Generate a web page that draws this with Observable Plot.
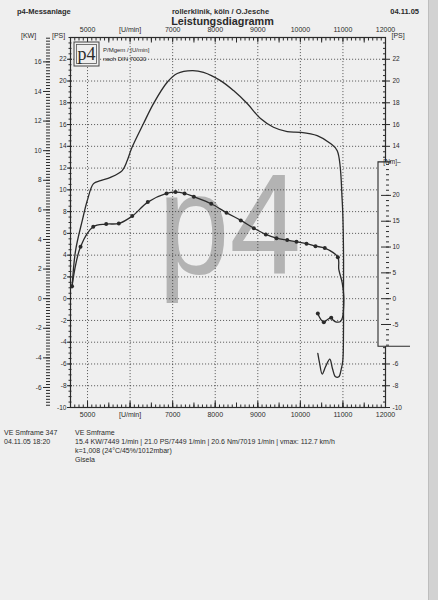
<!DOCTYPE html>
<html><head><meta charset="utf-8">
<script src="https://cdn.jsdelivr.net/npm/d3@7"></script>
<script src="https://cdn.jsdelivr.net/npm/@observablehq/plot@0.6"></script>
<style>
html,body{margin:0;padding:0;background:#efefef;}
#page{position:relative;width:438px;height:600px;overflow:hidden;background:#efefef;font-family:"Liberation Sans",Arial,sans-serif;color:#2b2b2b;}
#page svg{position:absolute;left:0;top:0;}
#strip{position:absolute;left:428px;top:0;width:10px;height:600px;background:#d2d2d2;border-left:1px solid #bdbdbd;}
</style></head>
<body><div id="page"><div id="strip"></div></div>
<script>
const PAPER = "#efefef";
const INK = "#2b2b2b";
const KW2PS = 1.36;     // 1 kW in PS units
const NM2PS = 0.4745;   // 1 Nm drawn on the PS grid

// axes / ticks
const rpmAxisTicks = [5000, 6000, 7000, 8000, 9000, 10000, 11000, 12000];
const gridRpm = [5000, 6000, 7000, 8000, 9000, 10000, 11000];
const psLabelsLeft = [22, 20, 18, 16, 14, 12, 10, 8, 6, 4, 2, 0, -2, -4, -6, -8, -10];
const psLabelsRight = [22, 20, 18, 16, 14, -6, -8, -10];
const psTicksRight = [22, 20, 18, 16, 14, 12, 10, 8, 6, 4, 2, 0, -2, -4, -6, -8, -10];
const gridPs = [22, 20, 18, 16, 14, 12, 10, 8, 6, 4, 2, 0, -2, -4, -6, -8];
const kwLabels = [16, 14, 12, 10, 8, 6, 4, 2, 0, -2, -4, -6];
const nmLabels = [20, 15, 10, 5, 0, -5];
const nmBox = [-9.3, 26.4];

// power curve (PS) – run-up then run-down
const powerRpm = [4636, 4718, 4876, 4993, 5141, 5305, 5540, 5815, 5933, 6034, 6315, 6550, 6872, 7107, 7459, 7725, 8124, 8430, 8751, 9064, 9369, 9691, 10003, 10396, 10708, 10866, 10983, 11013, 11013,
                  11013, 10997, 10960, 10903, 10826, 10755, 10692, 10591, 10513, 10450, 10410];
const powerPs  = [1.0, 4.4, 7.17, 9.0, 10.57, 10.85, 11.15, 11.77, 12.69, 13.79, 16.09, 17.93, 19.89, 20.69, 20.96, 20.80, 20.04, 19.12, 17.93, 16.55, 15.75, 15.35, 15.29, 14.98, 14.25, 13.6, 9.0, 4.4, 0.1,
                  -2.95, -5.7, -6.47, -7.18, -7.18, -6.44, -5.55, -6.26, -6.93, -5.89, -5.03];

// torque (Nm) – measured points (dots) during run-up
const torqueRpm = [4636, 4836, 5134, 5439, 5735, 6050, 6416, 6856, 7067, 7279, 7497, 7906, 8265, 8601, 8906, 9188, 9440, 9691, 9909, 10144, 10356, 10574, 10880];
const torqueNm  = [2.42, 10.06, 13.93, 14.44, 14.57, 15.99, 18.70, 20.39, 20.64, 20.39, 19.75, 18.39, 16.65, 15.16, 13.66, 12.44, 11.72, 11.34, 11.03, 10.64, 10.17, 9.79, 8.04];
// torque run-down trace
const rundownRpm = [10903, 10983, 11020, 11013, 10990, 10943, 10849, 10778, 10725, 10638, 10551, 10473, 10410];
const rundownNm  = [5.66, 3.08, 0.48, -2.09, -3.64, -4.42, -4.52, -4.22, -3.70, -4.03, -4.55, -3.93, -2.87];
const rundownDotRpm = [10725, 10551, 10410];
const rundownDotNm  = [-3.70, -4.55, -2.87];

const power = powerRpm.map((r, i) => ({rpm: r, ps: powerPs[i]}));
const torqueLine = torqueRpm.map((r, i) => ({rpm: r, nm: torqueNm[i]}))
  .concat(rundownRpm.map((r, i) => ({rpm: r, nm: rundownNm[i]})));
const torqueDots = torqueRpm.map((r, i) => ({rpm: r, nm: torqueNm[i]}))
  .concat(rundownDotRpm.map((r, i) => ({rpm: r, nm: rundownDotNm[i]})));

const none = () => "";
const plain = d => String(d);
const rpmFmt = d => d === 6000 ? "[U/min]" : String(d);

function nmBoxMark(index, scales, values, dimensions) {
  const xr = dimensions.width - dimensions.marginRight;
  const y0 = scales.y(nmBox[1] * NM2PS), y1 = scales.y(nmBox[0] * NM2PS);
  const g = d3.create("svg:g");
  g.append("rect").attr("x", xr - 7).attr("y", y0).attr("width", 34).attr("height", y1 - y0).attr("fill", PAPER);
  g.append("path").attr("d", `M${xr + 6},${y0}H${xr - 7}V${y1}H${xr + 25}`)
    .attr("fill", "none").attr("stroke", INK).attr("stroke-width", 1.1);
  g.append("text").attr("x", xr + 7).attr("y", y0 + 2.5).attr("font-size", 6.5).attr("fill", INK).text("[Nm]–");
  return g.node();
}

const fs = 7;
const chart = Plot.plot({
  width: 438, height: 600,
  marginLeft: 70, marginRight: 53, marginTop: 37, marginBottom: 193,
  x: {domain: [4600, 12000], label: null},
  y: {domain: [-10, 24], label: null},
  style: {background: "transparent", fontFamily: "Liberation Sans, Arial, sans-serif", fontSize: "7px", color: INK, overflow: "visible"},
  marks: [
    Plot.gridX(gridRpm, {stroke: "#333", strokeOpacity: 0.85, strokeWidth: 0.9, strokeDasharray: "1.1,1.9"}),
    Plot.gridY(gridPs, {stroke: "#333", strokeOpacity: 0.85, strokeWidth: 0.9, strokeDasharray: "1.1,1.9"}),
    Plot.frame({stroke: INK, strokeWidth: 1.2}),
    // top ruler (inward)
    Plot.axisX(d3.range(4700, 12000, 100), {anchor: "top", tickSize: 2.5, dy: 2.5, tickFormat: none, label: null}),
    Plot.axisX(d3.range(5000, 12000, 500), {anchor: "top", tickSize: 4.5, dy: 4.5, tickFormat: none, label: null}),
    Plot.axisX(rpmAxisTicks, {anchor: "top", tickSize: 0, tickPadding: 6, fontSize: fs, tickFormat: rpmFmt, label: null}),
    // bottom ruler (inward)
    Plot.axisX(d3.range(4700, 12000, 100), {anchor: "bottom", tickSize: 2.5, dy: -2.5, tickFormat: none, label: null}),
    Plot.axisX(d3.range(5000, 12000, 500), {anchor: "bottom", tickSize: 4.5, dy: -4.5, tickFormat: none, label: null}),
    Plot.axisX(d3.range(5000, 12000, 1000), {anchor: "bottom", tickSize: 6, dy: -6, tickFormat: none, label: null}),
    Plot.axisX(rpmAxisTicks, {anchor: "bottom", tickSize: 0, tickPadding: 5, fontSize: fs, tickFormat: rpmFmt, label: null}),
    // left PS axis
    Plot.axisY(d3.range(-10, 24.01, 0.5), {anchor: "left", tickSize: 3, dx: 1.5, tickFormat: none, label: null}),
    Plot.axisY(psLabelsLeft, {anchor: "left", tickSize: 5, dx: 2, tickFormat: none, label: null}),
    Plot.axisY(psLabelsLeft, {anchor: "left", tickSize: 0, tickPadding: 4, fontSize: 6.5, tickFormat: plain, label: null}),
    // left kW ruler
    Plot.axisY(d3.range(-7.2, 17.61, 0.2).map(k => k * KW2PS), {anchor: "left", dx: -20, tickSize: 4, tickFormat: none, label: null}),
    Plot.axisY(kwLabels.map(k => k * KW2PS), {anchor: "left", dx: -20, tickSize: 7, tickPadding: 2, fontSize: 6.5, tickFormat: d => String(Math.round(d / KW2PS)), label: null}),
    // right PS axis
    Plot.axisY(d3.range(-10, 24.01, 0.5), {anchor: "right", tickSize: 3, dx: -3, tickFormat: none, label: null}),
    Plot.axisY(psTicksRight, {anchor: "right", tickSize: 8, dx: -4, tickFormat: none, label: null}),
    Plot.axisY(psLabelsRight, {anchor: "right", tickSize: 0, tickPadding: 7, fontSize: 6.5, tickFormat: plain, label: null}),
    // Nm box and axis
    nmBoxMark,
    Plot.axisY(d3.range(-9, 26.01, 1).map(n => n * NM2PS), {anchor: "right", tickSize: 3, dx: 0, tickFormat: none, label: null}),
    Plot.axisY(nmLabels.map(n => n * NM2PS), {anchor: "right", tickSize: 10, dx: -5, tickPadding: 2, fontSize: 6.5, tickFormat: d => String(Math.round(d / NM2PS)), label: null}),
    // curves
    Plot.line(power, {x: "rpm", y: "ps", curve: "catmull-rom", stroke: INK, strokeWidth: 1.3}),
    Plot.line(torqueLine, {x: "rpm", y: d => d.nm * NM2PS, curve: "catmull-rom", stroke: INK, strokeWidth: 1.3}),
    Plot.dot(torqueDots, {x: "rpm", y: d => d.nm * NM2PS, r: 2, fill: INK, stroke: "none"})
  ]
});

const page = document.getElementById("page");

// watermark behind the chart
const wm = d3.create("svg").attr("width", 438).attr("height", 600);
wm.append("text").attr("transform", "translate(158,273) scale(0.9,1)")
  .attr("font-family", "Liberation Sans, Arial, sans-serif").attr("font-size", 143)
  .attr("fill", "#b3b3b3").text("p4");
page.appendChild(wm.node());
page.appendChild(chart);

// header, labels, logo and footer
const ov = d3.create("svg").attr("width", 438).attr("height", 600)
  .attr("font-family", "Liberation Sans, Arial, sans-serif").attr("fill", INK);
const T = (x, y, s, size, opts = {}) => {
  const t = ov.append("text").attr("x", x).attr("y", y).attr("font-size", size).text(s);
  if (opts.bold) t.attr("font-weight", "bold");
  if (opts.anchor) t.attr("text-anchor", opts.anchor);
  if (opts.family) t.attr("font-family", opts.family);
  return t;
};
T(17, 13.5, "p4-Messanlage", 7.5, {bold: true});
T(220.5, 13.5, "rollerklinik, köln / O.Jesche", 7.5, {bold: true, anchor: "middle"});
T(419, 13.5, "04.11.05", 7.5, {bold: true, anchor: "end"});
T(222.5, 25, "Leistungsdiagramm", 10.8, {bold: true, anchor: "middle"});
T(21, 37.5, "[KW]", 7);
T(52, 37.5, "[PS]", 7);
T(391.5, 37.5, "[PS]", 7);
// logo
ov.append("rect").attr("x", 74).attr("y", 42).attr("width", 25).attr("height", 24).attr("fill", PAPER).attr("stroke", "#444").attr("stroke-width", 1);
ov.append("rect").attr("x", 76.5).attr("y", 44.5).attr("width", 20).attr("height", 19).attr("fill", "none").attr("stroke", "#555").attr("stroke-width", 0.8);
T(86.5, 60, "p4", 18, {anchor: "middle", family: "Liberation Serif, serif"});
T(103, 52, "P/Mgem / [U/min]", 6);
T(103, 61, "nach DIN 70020", 6);
// footer
T(4, 434.5, "VE Smframe 347", 7);
T(4, 443.5, "04.11.05  18:20", 7);
T(75, 434.5, "VE Smframe", 7);
T(75, 443.5, "15.4 KW/7449 1/min  |  21.0 PS/7449 1/min  |  20.6 Nm/7019 1/min | vmax: 112.7 km/h", 7);
T(75, 452.5, "k=1,008 (24°C/45%/1012mbar)", 7);
T(75, 461.5, "Gisela", 7);
page.appendChild(ov.node());
</script>
</body></html>
